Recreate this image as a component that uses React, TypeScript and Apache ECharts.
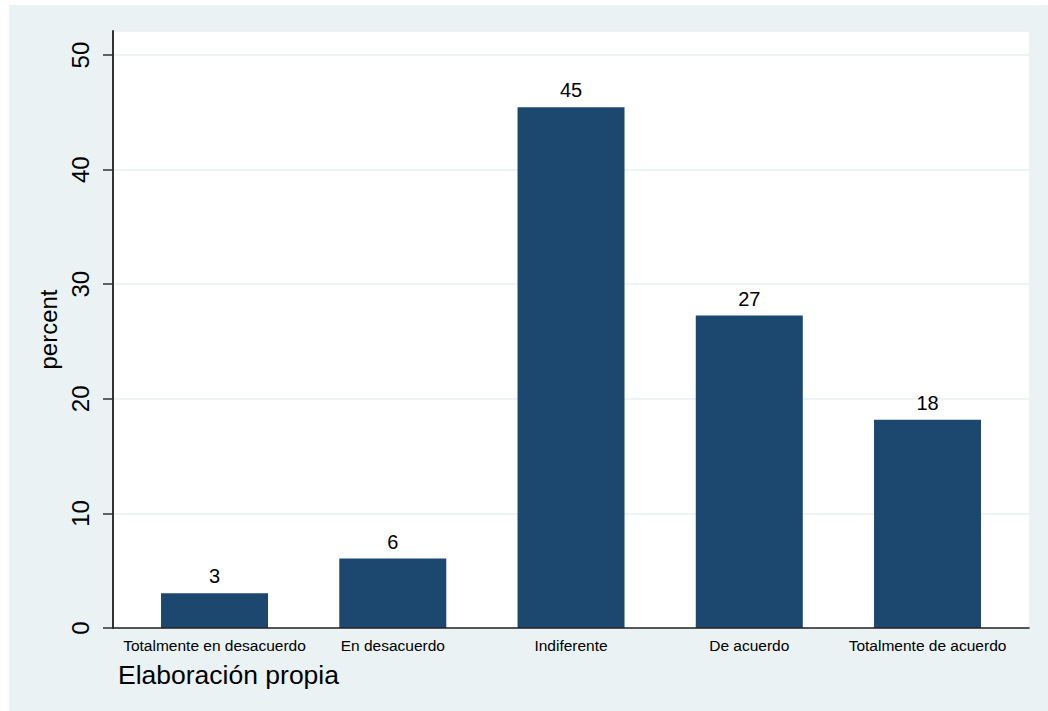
import React, { useEffect, useRef } from "react";
import * as echarts from "echarts";

const categories = [
  "Totalmente en desacuerdo",
  "En desacuerdo",
  "Indiferente",
  "De acuerdo",
  "Totalmente de acuerdo",
];
const percentValues = [3.03, 6.06, 45.45, 27.27, 18.18];
const yTicks = [0, 10, 20, 30, 40, 50];
const yMax = 52.1;
const yTitle = "percent";
const note = "Elaboración propia";

const FONT = "'Liberation Sans', Arial, Helvetica, sans-serif";
const BAR = "#1c4870";

export default function App() {
  const ref = useRef<HTMLDivElement>(null);
  useEffect(() => {
    if (!ref.current) return;
    const chart = echarts.init(ref.current, null, { renderer: "svg" });
    const plotTop = 31;
    const plotBottom = 83;
    chart.setOption({
      animation: false,
      backgroundColor: "#ffffff",
      textStyle: { fontFamily: FONT },
      graphic: [
        {
          type: "rect",
          z: -10,
          silent: true,
          shape: { x: 9, y: 5, width: 1039, height: 706 },
          style: { fill: "#eaf2f3" },
        },
        {
          type: "text",
          left: 118,
          top: 661,
          style: {
            text: note,
            fontSize: 26.5,
            fontFamily: FONT,
            fill: "#000000",
          },
        },
      ],
      grid: [
        {
          left: 113,
          right: 19,
          top: plotTop,
          bottom: plotBottom,
          show: true,
          backgroundColor: "#ffffff",
          borderWidth: 0,
        },
        {
          left: 125.4,
          width: 891.25,
          top: plotTop,
          bottom: plotBottom,
        },
      ],
      xAxis: [
        {
          gridIndex: 0,
          type: "category",
          data: categories,
          axisLine: { show: true, lineStyle: { color: "#222222", width: 1.5 } },
          axisTick: { show: false },
          axisLabel: { show: false },
          splitLine: { show: false },
          z: 5,
        },
        {
          gridIndex: 1,
          type: "category",
          data: categories,
          axisLine: { show: false },
          axisTick: { show: false },
          axisLabel: {
            show: true,
            interval: 0,
            margin: 9,
            fontSize: 15.5,
            color: "#000000",
            fontFamily: FONT,
          },
        },
      ],
      yAxis: [
        {
          gridIndex: 0,
          type: "value",
          min: yTicks[0],
          max: yMax,
          interval: 10,
          name: yTitle,
          nameLocation: "middle",
          nameGap: 48,
          nameTextStyle: { fontSize: 24, color: "#000000", fontFamily: FONT },
          axisLine: { show: true, lineStyle: { color: "#333333", width: 2 } },
          axisTick: { show: true, length: 10, lineStyle: { color: "#333333", width: 1.5 } },
          axisLabel: {
            show: true,
            rotate: 90,
            margin: 21,
            fontSize: 24,
            color: "#000000",
            fontFamily: FONT,
            showMaxLabel: false,
            formatter: (v: number) => (yTicks.includes(v) ? String(v) : ""),
          },
          splitLine: { show: true, lineStyle: { color: "#e8eff1", width: 1.5 } },
        },
        {
          gridIndex: 1,
          type: "value",
          min: yTicks[0],
          max: yMax,
          show: false,
          splitLine: { show: false },
        },
      ],
      series: [
        {
          type: "bar",
          xAxisIndex: 1,
          yAxisIndex: 1,
          data: percentValues,
          barWidth: 107,
          itemStyle: { color: BAR },
          label: {
            show: true,
            position: "top",
            distance: 7,
            fontSize: 20,
            color: "#000000",
            fontFamily: FONT,
            formatter: (p: any) => String(Math.round(p.value)),
          },
        },
      ],
    });
    return () => chart.dispose();
  }, []);
  return (
    <div
      ref={ref}
      style={{ position: "fixed", left: 0, top: 0, width: 1048, height: 711 }}
    />
  );
}
